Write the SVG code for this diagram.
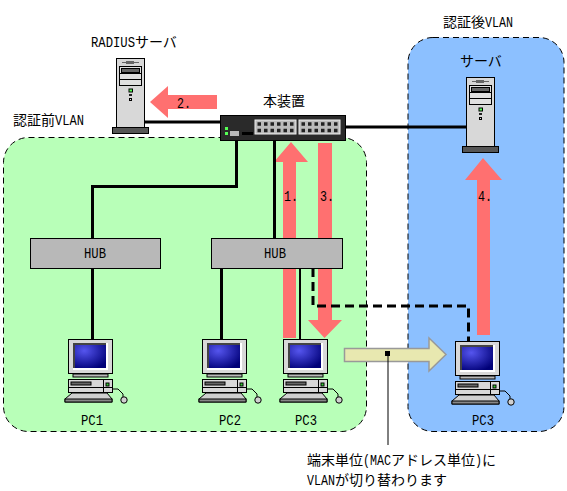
<svg xmlns="http://www.w3.org/2000/svg" xmlns:xlink="http://www.w3.org/1999/xlink" width="567" height="491" viewBox="0 0 567 491">
<style>
text{font-family:"Noto Sans CJK JP","Liberation Mono",monospace;font-size:14px;fill:#000}
.l{font-family:"Liberation Mono",monospace;font-size:15.5px}
.zone{stroke:#000;stroke-width:1;stroke-dasharray:6 4}
.wire{fill:none;stroke:#000;stroke-width:3}
.red{fill:#ff7070}
</style>
<defs>
<radialGradient id="scr" cx="0.3" cy="0.25" r="0.85"><stop offset="0" stop-color="#5555ee"/><stop offset="1" stop-color="#000078"/></radialGradient>
<g id="pc" stroke="#000" stroke-width="1">
<rect x="0.5" y="0.5" width="44" height="34" fill="#d8d8d8"/>
<rect x="5" y="4" width="35" height="27" fill="#fff" stroke="none"/>
<path d="M5 4H38V6H7V29H5Z" fill="#444" stroke="none"/>
<rect x="7" y="6" width="31" height="23" fill="url(#scr)" stroke="none"/>
<rect x="5" y="35" width="35" height="3" fill="#b8b8b8"/>
<rect x="0.5" y="40.5" width="44" height="13" fill="#d8d8d8"/>
<path d="M35.5 40.5V53.5M0.5 48.5H44.5" fill="none"/>
<rect x="3" y="43" width="20" height="3" fill="#666"/>
<rect x="38" y="44" width="3" height="3" fill="#3c3"/>
<path d="M4 54H39L44 60V63H-3V60Z" fill="#d0d0d0"/>
<rect x="-3" y="60" width="47" height="3" fill="#888"/>
<path d="M44 50H50L55 55V58" fill="none"/>
<ellipse cx="56" cy="61" rx="3.2" ry="3.2" fill="#d0d0d0"/>
</g>
<g id="srv" stroke="#000" stroke-width="1">
<rect x="0.5" y="0.5" width="28" height="69" fill="#d8d8d8"/>
<path d="M6 4.5H23" stroke="#666"/><rect x="10" y="3" width="8" height="3" fill="#666" stroke="none"/>
<rect x="3.5" y="8.5" width="22" height="19" fill="#e0e0e0"/>
<rect x="5.5" y="10.5" width="18" height="4" fill="#666"/>
<path d="M3.5 15.5H25.5M3.5 21.5H25.5" fill="none"/>
<rect x="13" y="31" width="3.500" height="3" fill="#5f5"/>
<rect x="13" y="36" width="3" height="2" fill="#222" stroke="none"/>
<rect x="13.500" y="40.500" width="2" height="2" fill="#ddd"/>
<rect x="-3.500" y="69.500" width="36" height="6" fill="#555"/>
</g>
</defs>
<rect width="567" height="491" fill="#fff"/>
<g id="zones">
<rect id="zone-before" class="zone" x="3.500" y="137.500" width="363" height="294" rx="25" fill="#b8ffb8"/>
<rect id="zone-after" class="zone" x="408" y="37.500" width="156" height="394" rx="25" fill="#8cc0ff"/>
</g>
<g id="steps">
<path class="red" d="M291 142L308 162H296V338H283V162H274Z"/>
<path class="red" d="M318 143H332V320H342L324.500 338L308 320H318Z"/>
<path class="red" d="M483 158L502 180H490V335H477V180H465Z"/>
<path class="red" d="M150 102L168 86V95H217V109H168V118Z"/>
<path id="move" d="M344.500 348.500H429V338L446 354.500L429 371V361.500H344.500Z" fill="#e8e8b0" stroke="#999" stroke-width="1.500"/>
</g>
<g id="connectors">
<path class="wire" d="M145 122H220"/>
<path class="wire" d="M345 127H466"/>
<path class="wire" d="M236.500 140V186.500H92.500V238"/>
<path class="wire" d="M274.500 140V238"/>
<path class="wire" d="M92.500 268V339"/>
<path class="wire" d="M221.500 268V339"/>
<path class="wire" style="stroke-width:2" d="M300 268V339"/>
<path class="wire" stroke-dasharray="9 5" d="M313 268V306H468.500V341"/>
<path d="M388 354V445" fill="none" stroke="#000" stroke-width="1"/>
<rect x="385" y="351" width="5" height="5" fill="#000"/>
</g>
<g id="radius-server"><use xlink:href="#srv" href="#srv" x="116" y="58"/><text y="47"><tspan class="l" x="91" textLength="44" lengthAdjust="spacingAndGlyphs">RADIUS</tspan><tspan x="135">サーバ</tspan></text></g>
<g id="switch">
<rect x="220.500" y="115.500" width="125" height="25" fill="#2a2a2a" stroke="#000"/>
<rect x="255" y="120" width="41" height="14" fill="#bbb" stroke="#eee"/>
<rect x="299" y="120" width="41" height="14" fill="#bbb" stroke="#eee"/>
<path d="M257.500 124H294M257.500 130.500H294M301.500 124H338M301.500 130.500H338" stroke="#222" stroke-width="3.500" stroke-dasharray="3.500 3"/>
<rect x="225" y="127" width="3" height="3" fill="#5f5"/>
<rect x="225" y="132" width="3" height="3" fill="#5f5"/>
<rect x="230" y="131" width="9" height="5" fill="#bbb"/>
<rect x="242" y="132" width="11" height="3" fill="#000"/>
<text x="263" y="106">本装置</text>
</g>
<g id="server"><use xlink:href="#srv" href="#srv" x="466" y="77"/><text x="460" y="66">サーバ</text></g>
<g id="hub1"><rect x="30.500" y="238.500" width="130" height="30" fill="#b8b8b8" stroke="#000"/><text class="l" x="84" y="258" textLength="22" lengthAdjust="spacingAndGlyphs">HUB</text></g>
<g id="hub2"><rect x="211.500" y="238.500" width="131" height="30" fill="#b8b8b8" stroke="#000"/><text class="l" x="264" y="258" textLength="22" lengthAdjust="spacingAndGlyphs">HUB</text></g>
<g id="pc1"><use xlink:href="#pc" href="#pc" x="68" y="339"/><text class="l" x="81" y="425" textLength="22" lengthAdjust="spacingAndGlyphs">PC1</text></g>
<g id="pc2"><use xlink:href="#pc" href="#pc" x="202" y="339"/><text class="l" x="219" y="425" textLength="22" lengthAdjust="spacingAndGlyphs">PC2</text></g>
<g id="pc3"><use xlink:href="#pc" href="#pc" x="283" y="339"/><text class="l" x="295" y="425" textLength="22" lengthAdjust="spacingAndGlyphs">PC3</text></g>
<g id="pc3-after"><use xlink:href="#pc" href="#pc" x="455" y="341"/><text class="l" x="472" y="425" textLength="22" lengthAdjust="spacingAndGlyphs">PC3</text></g>
<g id="labels">
<text y="125"><tspan x="13">認証前</tspan><tspan class="l" x="55" textLength="29" lengthAdjust="spacingAndGlyphs">VLAN</tspan></text>
<text y="27"><tspan x="443">認証後</tspan><tspan class="l" x="485" textLength="28" lengthAdjust="spacingAndGlyphs">VLAN</tspan></text>
<text class="l" x="177" y="108" textLength="14" lengthAdjust="spacingAndGlyphs">2.</text>
<text class="l" x="284" y="201" textLength="14" lengthAdjust="spacingAndGlyphs">1.</text>
<text class="l" x="320" y="201" textLength="14" lengthAdjust="spacingAndGlyphs">3.</text>
<text class="l" x="478" y="201" textLength="14" lengthAdjust="spacingAndGlyphs">4.</text>
<text y="465"><tspan x="307">端末単位</tspan><tspan class="l" x="363" textLength="28" lengthAdjust="spacingAndGlyphs">(MAC</tspan><tspan x="391">アドレス単位</tspan><tspan class="l" x="475" textLength="7" lengthAdjust="spacingAndGlyphs">)</tspan><tspan x="482">に</tspan></text>
<text y="485"><tspan class="l" x="307" textLength="28" lengthAdjust="spacingAndGlyphs">VLAN</tspan><tspan x="335">が切り替わります</tspan></text>
</g>
</svg>
